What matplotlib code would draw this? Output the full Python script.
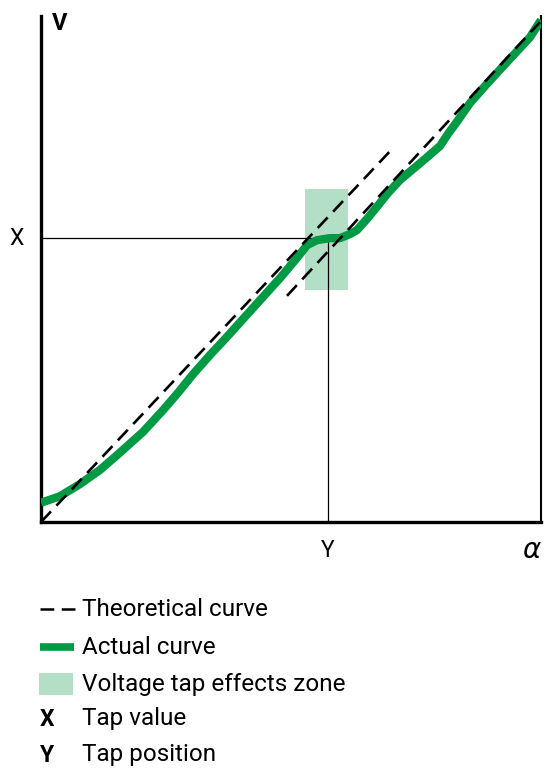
import matplotlib
matplotlib.use('Agg')
import matplotlib.pyplot as plt
from matplotlib.lines import Line2D
from matplotlib.patches import Rectangle

# data (normalised alpha / V)
actual_x = [0.000, 0.038, 0.078, 0.118, 0.152, 0.204, 0.244, 0.272, 0.304, 0.338,
            0.372, 0.424, 0.478, 0.512, 0.532, 0.552, 0.578, 0.598, 0.618, 0.632,
            0.652, 0.672, 0.692, 0.718, 0.758, 0.798, 0.814, 0.834, 0.858, 0.892,
            0.932, 0.978, 1.000]
actual_y = [0.038, 0.051, 0.075, 0.103, 0.132, 0.178, 0.221, 0.253, 0.292, 0.330,
            0.366, 0.423, 0.482, 0.522, 0.547, 0.557, 0.561, 0.561, 0.569, 0.577,
            0.599, 0.623, 0.648, 0.676, 0.709, 0.743, 0.767, 0.794, 0.828, 0.866,
            0.909, 0.958, 0.992]
theo1_x = [0.0, 0.702]
theo1_y = [0.0, 0.737]
theo2_x = [0.492, 0.998]
theo2_y = [0.447, 0.988]
zone_x = (0.528, 0.614)
zone_y = (0.458, 0.658)
tap_value = 0.561     # X
tap_position = 0.574  # Y

GREEN = '#009a44'
ZONE = '#b3dfc6'
plt.rcParams['font.family'] = ['Roboto', 'DejaVu Sans']

fig = plt.figure(figsize=(5.45, 7.69), dpi=100)
ax = fig.add_axes([41/545, 1 - 522/769, 500/545, 506/769])
ax.set_xlim(0, 1)
ax.set_ylim(0, 1)

ax.add_patch(Rectangle((zone_x[0], zone_y[0]), zone_x[1] - zone_x[0],
                       zone_y[1] - zone_y[0], color=ZONE, lw=0, zorder=1))
ax.plot([0, tap_position], [tap_value, tap_value], color='black', lw=0.9, zorder=2)
ax.plot([tap_position, tap_position], [0, tap_value], color='black', lw=0.9, zorder=2)
ax.plot(actual_x, actual_y, color=GREEN, lw=6, solid_capstyle='butt',
        solid_joinstyle='round', zorder=3)
for tx, ty in [(theo1_x, theo1_y), (theo2_x, theo2_y)]:
    ax.plot(tx, ty, color='black', lw=1.9, linestyle=(0, (5.5, 3)), zorder=4)

ax.spines['top'].set_visible(False)
ax.spines['left'].set_linewidth(2.4)
ax.spines['bottom'].set_linewidth(2.4)
ax.spines['right'].set_linewidth(1.5)
ax.set_xticks([])
ax.set_yticks([])

ax.text(-0.048, tap_value, 'X', fontsize=16.5, ha='center', va='center')
ax.text(tap_position, -0.056, 'Y', fontsize=16.5, ha='center', va='center')
ax.text(0.982, -0.056, r'$\alpha$', fontsize=20, ha='center', va='center')
ax.text(0.038, 0.985, 'V', fontsize=17, fontweight='bold', ha='center', va='center')

# legend drawn in figure pixels
W, H = 545, 769
def fy(py):
    return 1 - py / H

fig.add_artist(Line2D([40/W, 75/W], [fy(609), fy(609)], color='black', lw=1.8,
                      linestyle=(0, (5.5, 3)), dash_capstyle='butt'))
fig.add_artist(Line2D([40/W, 74/W], [fy(647), fy(647)], color=GREEN, lw=5.5,
                      solid_capstyle='butt'))
fig.add_artist(Rectangle((39/W, fy(695)), 34/W, 22/H, color=ZONE, lw=0,
                         transform=fig.transFigure))
fig.text(40/W, fy(719), 'X', fontsize=16.5, fontweight='bold', va='center')
fig.text(40/W, fy(755), 'Y', fontsize=16.5, fontweight='bold', va='center')
labels = ['Theoretical curve', 'Actual curve', 'Voltage tap effects zone',
          'Tap value', 'Tap position']
for lab, py in zip(labels, [609, 647, 684, 719, 755]):
    fig.text(82/W, fy(py), lab, fontsize=17.5, va='center')

fig.savefig('out.png', dpi=100)
